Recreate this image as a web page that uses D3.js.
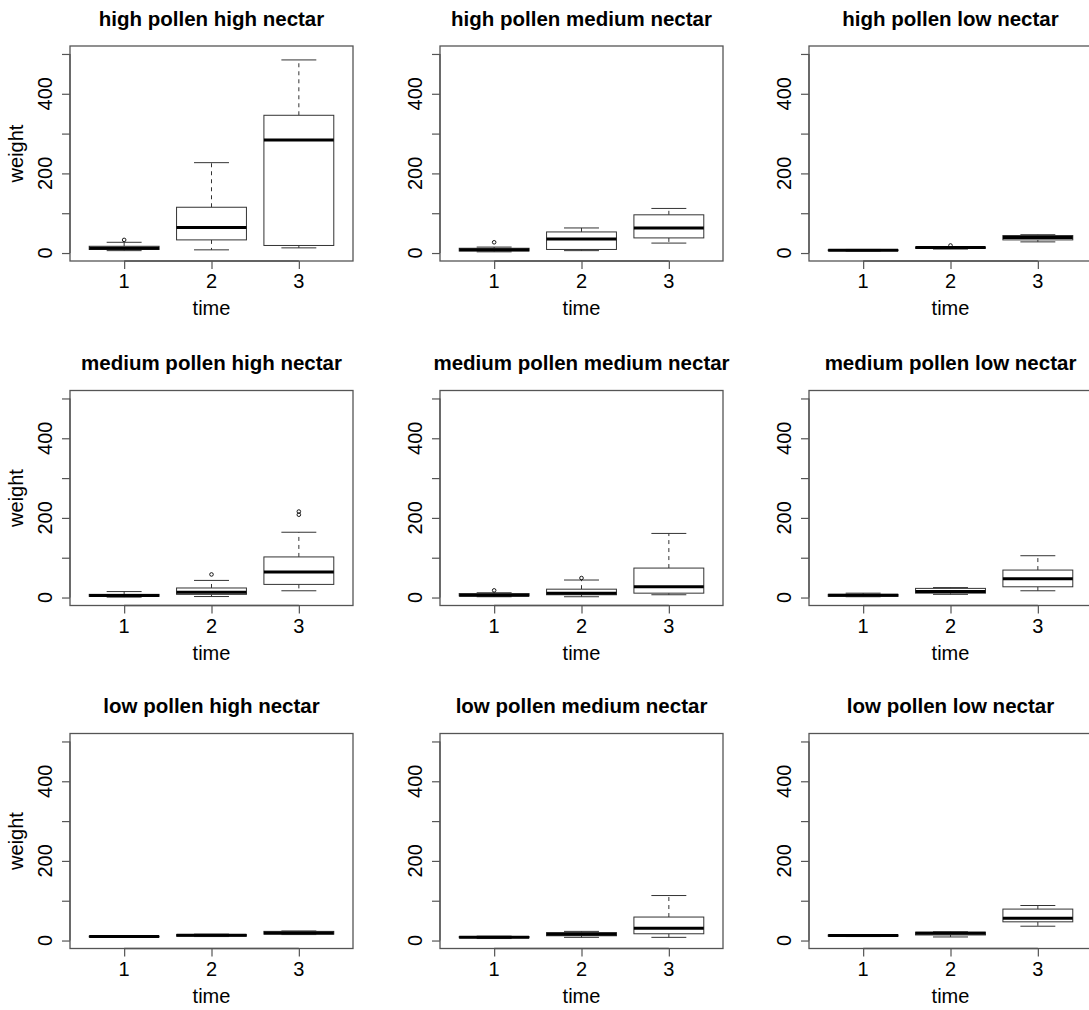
<!DOCTYPE html>
<html>
<head>
<meta charset="utf-8">
<script src="https://cdn.jsdelivr.net/npm/d3@7"></script>
<style>
  html, body { margin: 0; padding: 0; background: #fff; }
  svg { display: block; }
  text { font-family: "Liberation Sans", Arial, Helvetica, sans-serif; fill: #000; }
</style>
</head>
<body>
<svg id="chart" width="1089" height="1010"></svg>
<script>
// ---- data ----
const panelTitles = [
  "high pollen high nectar", "high pollen medium nectar", "high pollen low nectar",
  "medium pollen high nectar", "medium pollen medium nectar", "medium pollen low nectar",
  "low pollen high nectar", "low pollen medium nectar", "low pollen low nectar"
];
const timeLevels = [1, 2, 3];
const yTickValues = [0, 100, 200, 300, 400, 500];
const yTickLabels = ["0", "", "200", "", "400", ""];

// per panel, values for time 1,2,3
const lowerWhisker = [
  [6, 8, 13], [3, 6, 25], [5, 10, 28],
  [1, 2.5, 17], [2, 2, 7], [2, 8, 17],
  [8, 10, 15], [5, 8, 8], [10, 9, 36]
];
const lowerQuartile = [
  [9, 33, 19], [5, 9, 38], [6, 12, 33],
  [3, 8, 33], [4, 7, 11], [3, 11, 27],
  [9, 11, 16], [7, 12, 17], [11, 14, 47]
];
const medianValue = [
  [12, 64, 284], [8, 35, 63], [7, 14, 39],
  [5, 13, 64], [6, 11, 27], [6, 15, 47],
  [10, 13, 19], [8, 16, 31], [12.5, 18, 56]
];
const upperQuartile = [
  [17, 115, 346], [12, 53, 96], [8, 15, 44],
  [8, 24, 102], [10, 21, 74], [8, 23, 69],
  [11, 15, 23], [10, 20, 59], [14, 21, 79]
];
const upperWhisker = [
  [27, 227, 485], [15, 63, 112], [9, 16, 46],
  [15, 43, 164], [12, 44, 161], [11, 25, 105],
  [12, 16, 24], [11, 23, 113], [15, 22, 88]
];
// outliers: [panel index, time, value]
const outlierPoints = [
  [0, 1, 33],
  [1, 1, 27],
  [2, 2, 19],
  [3, 2, 58],
  [3, 3, 208], [3, 3, 216],
  [4, 1, 18],
  [4, 2, 49]
];

// ---- layout ----
const colLeft = [70, 440, 809];
const rowTop = [46, 390.5, 733.5];
const plotW = 283, plotH = 215;

const svg = d3.select("#chart");

panelTitles.forEach((title, p) => {
  const c = p % 3, r = Math.floor(p / 3);
  const x0 = colLeft[c], y0 = rowTop[r];
  const g = svg.append("g").attr("transform", `translate(${x0},${y0})`);

  const x = d3.scaleLinear().domain([0.38, 3.62]).range([0, plotW]);
  const y = d3.scaleLinear().domain([-20, 520]).range([plotH, 0]);
  const u = x(1) - x(0); // px per group unit

  // boxes
  timeLevels.forEach((t, i) => {
    const lo = lowerWhisker[p][i], q1 = lowerQuartile[p][i], md = medianValue[p][i],
          q3 = upperQuartile[p][i], hi = upperWhisker[p][i];
    const cx = x(t);
    const bw = 0.8 * u, sw = 0.4 * u;
    // whiskers (dashed)
    g.append("line").attr("x1", cx).attr("x2", cx).attr("y1", y(q3)).attr("y2", y(hi))
      .attr("stroke", "#333").attr("stroke-width", 1).attr("stroke-dasharray", "4,4");
    g.append("line").attr("x1", cx).attr("x2", cx).attr("y1", y(q1)).attr("y2", y(lo))
      .attr("stroke", "#333").attr("stroke-width", 1).attr("stroke-dasharray", "4,4");
    // staples
    g.append("line").attr("x1", cx - sw / 2).attr("x2", cx + sw / 2).attr("y1", y(hi)).attr("y2", y(hi))
      .attr("stroke", "#333").attr("stroke-width", 1);
    g.append("line").attr("x1", cx - sw / 2).attr("x2", cx + sw / 2).attr("y1", y(lo)).attr("y2", y(lo))
      .attr("stroke", "#333").attr("stroke-width", 1);
    // box
    g.append("rect").attr("x", cx - bw / 2).attr("y", y(q3)).attr("width", bw)
      .attr("height", Math.max(0.5, y(q1) - y(q3)))
      .attr("fill", "#fff").attr("stroke", "#333").attr("stroke-width", 1);
    // median
    g.append("line").attr("x1", cx - bw / 2).attr("x2", cx + bw / 2).attr("y1", y(md)).attr("y2", y(md))
      .attr("stroke", "#000").attr("stroke-width", 3);
  });

  // outliers
  outlierPoints.filter(o => o[0] === p).forEach(o => {
    g.append("circle").attr("cx", x(o[1])).attr("cy", y(o[2])).attr("r", 1.8)
      .attr("fill", "none").attr("stroke", "#000").attr("stroke-width", 0.9);
  });

  // frame
  g.append("rect").attr("x", 0).attr("y", 0).attr("width", plotW).attr("height", plotH)
    .attr("fill", "none").attr("stroke", "#555").attr("stroke-width", 1.3);

  // y axis
  const ya = d3.axisLeft(y).tickValues(yTickValues).tickSize(8).tickFormat(() => "");
  const yg = g.append("g").call(ya);
  yg.select(".domain").attr("d", `M0,${y(0)}V${y(500)}`).attr("stroke", "#555").attr("stroke-width", 1.3);
  yg.selectAll(".tick line").attr("stroke", "#555").attr("stroke-width", 1.2);
  yTickValues.forEach((v, i) => {
    if (!yTickLabels[i]) return;
    g.append("text").attr("transform", `translate(-18,${y(v)}) rotate(-90)`)
      .attr("text-anchor", "middle").attr("font-size", 20).text(yTickLabels[i]);
  });

  // x axis
  const xa = d3.axisBottom(x).tickValues(timeLevels).tickSize(8).tickFormat(() => "");
  const xg = g.append("g").attr("transform", `translate(0,${plotH})`).call(xa);
  xg.select(".domain").attr("d", `M${x(1)},0H${x(3)}`).attr("stroke", "#555").attr("stroke-width", 1.3);
  xg.selectAll(".tick line").attr("stroke", "#555").attr("stroke-width", 1.2);
  timeLevels.forEach(t => {
    g.append("text").attr("x", x(t)).attr("y", plotH + 27).attr("text-anchor", "middle")
      .attr("font-size", 20).text(String(t));
  });

  // axis titles
  g.append("text").attr("x", plotW / 2).attr("y", plotH + 54).attr("text-anchor", "middle")
    .attr("font-size", 20).text("time");
  if (c === 0) {
    g.append("text").attr("transform", `translate(-47,${plotH / 2}) rotate(-90)`)
      .attr("text-anchor", "middle").attr("font-size", 20).text("weight");
  }

  // panel title
  g.append("text").attr("x", plotW / 2).attr("y", -20.5).attr("text-anchor", "middle")
    .attr("font-size", 20.5).attr("font-weight", "bold").text(title);
});
</script>
</body>
</html>
